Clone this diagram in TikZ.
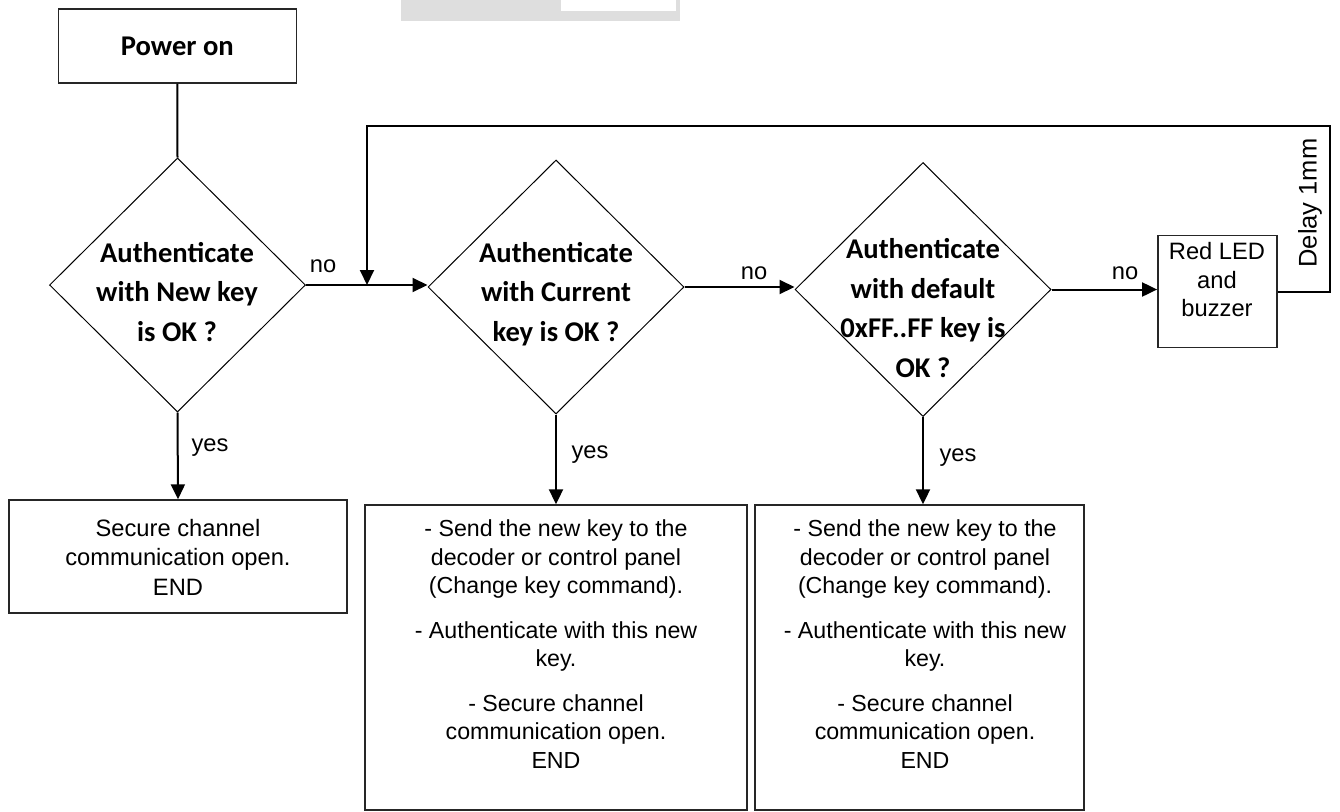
\documentclass[tikz,border=0pt]{standalone}
\usepackage{fontspec}
\usepackage{graphicx}
\setmainfont{Liberation Sans}
\newfontfamily\calib{Carlito}
\usetikzlibrary{arrows.meta,shapes.geometric}
\begin{document}
\begin{tikzpicture}[x=1pt,y=-1pt,
  box/.style={draw=black!85, line width=1.4pt, rectangle, inner sep=0pt},
  dia/.style={draw, line width=1pt, diamond, minimum width=256pt, minimum height=254pt, inner sep=0pt},
  btxt/.style={font=\calib\bfseries\fontsize{28.6}{39.5}\selectfont, align=center, inner sep=0pt},
  ntxt/.style={font=\fontsize{23.2}{28.5}\selectfont, align=center, inner sep=0pt},
  conn/.style={line width=2pt},
  arr/.style={conn, -{Triangle[length=15pt,width=14pt]}},
]
\useasboundingbox (0,0) rectangle (1340,811);
% cropped screenshot strip at the top
\fill[black!13] (401,0) rectangle (680,21);
\fill[white] (561,0) rectangle (676,11);

% boxes
\node[box, minimum width=238pt, minimum height=74pt, font=\calib\bfseries\fontsize{28.6}{34}\selectfont] (pow) at (177.3,46) {Power on};
\node[dia] (d1) at (177.5,285) {};
\node[dia] (d2) at (556,287) {};
\node[dia] (d3) at (923,289.5) {};
\node[btxt] (t1) at (177,292) {Authenticate\\with New key\\is OK ?};
\node[btxt] (t2) at (556,294) {Authenticate\\with Current\\key is OK ?};
\node[btxt] (t3) at (923,308) {Authenticate\\with default\\0xFF..FF key is\\OK ?};

\node[box, minimum width=119pt, minimum height=112pt] (led) at (1217.3,291.5) {};
\node[ntxt, font=\fontsize{23.7}{28.5}\selectfont] (ledt) at (1217,280) {Red LED\\and\\buzzer};

\node[box, minimum width=338pt, minimum height=113pt] (b1) at (178,556.5) {};
\node[ntxt, font=\fontsize{23.7}{29.5}\selectfont] (b1t) at (178,557) {Secure channel\\communication open.\\END};

\node[box, minimum width=382pt, minimum height=305pt] (b2) at (556,657.5) {};
\node[ntxt] (b2t) at (556,644) {- Send the new key to the\\decoder or control panel\\(Change key command).\\[16pt]- Authenticate with this new\\key.\\[16pt]- Secure channel\\communication open.\\END};

\node[box, minimum width=329pt, minimum height=305pt] (b3) at (919.5,657.5) {};
\node[ntxt] (b3t) at (925,644) {- Send the new key to the\\decoder or control panel\\(Change key command).\\[16pt]- Authenticate with this new\\key.\\[16pt]- Secure channel\\communication open.\\END};

% labels
\node[ntxt, font=\fontsize{23.7}{28}\selectfont] (no1) at (323,266) {no};
\node[ntxt, font=\fontsize{23.7}{28}\selectfont] (no2) at (754,273) {no};
\node[ntxt, font=\fontsize{23.7}{28}\selectfont] (no3) at (1125,273) {no};
\node[ntxt, font=\fontsize{23.7}{28}\selectfont] (y1) at (210,448) {yes};
\node[ntxt, font=\fontsize{23.7}{28}\selectfont] (y2) at (590,455) {yes};
\node[ntxt, font=\fontsize{23.7}{28}\selectfont] (y3) at (958,458) {yes};
\node[inner sep=0pt, font=\fontsize{25.5}{28}\selectfont] (delay) at (1310,203) {\rotatebox{90}{Delay 1mm}};

% connectors
\draw[conn] (pow.south) -- (d1.north);
\draw[arr] (d1.east) -- (d1.east -| d2.west);
\draw[arr] (d2.east) -- (d2.east -| d3.west);
\draw[arr] (d3.east) -- (d3.east -| led.west);
\draw[arr] (d1.south) -- (b1.north);
\draw[arr] (d2.south) -- (b2.north);
\draw[arr] (d3.south) -- (d3.south |- b3.north);
\coordinate (c1) at (1330,291.5);
\coordinate (c2) at (1330,125.7);
\coordinate (c3) at (367,125.7);
\coordinate (c4) at (367,285);
\draw[arr] (led.east) -- (c1) -- (c2) -- (c3) -- (c4);
\end{tikzpicture}
\end{document}
